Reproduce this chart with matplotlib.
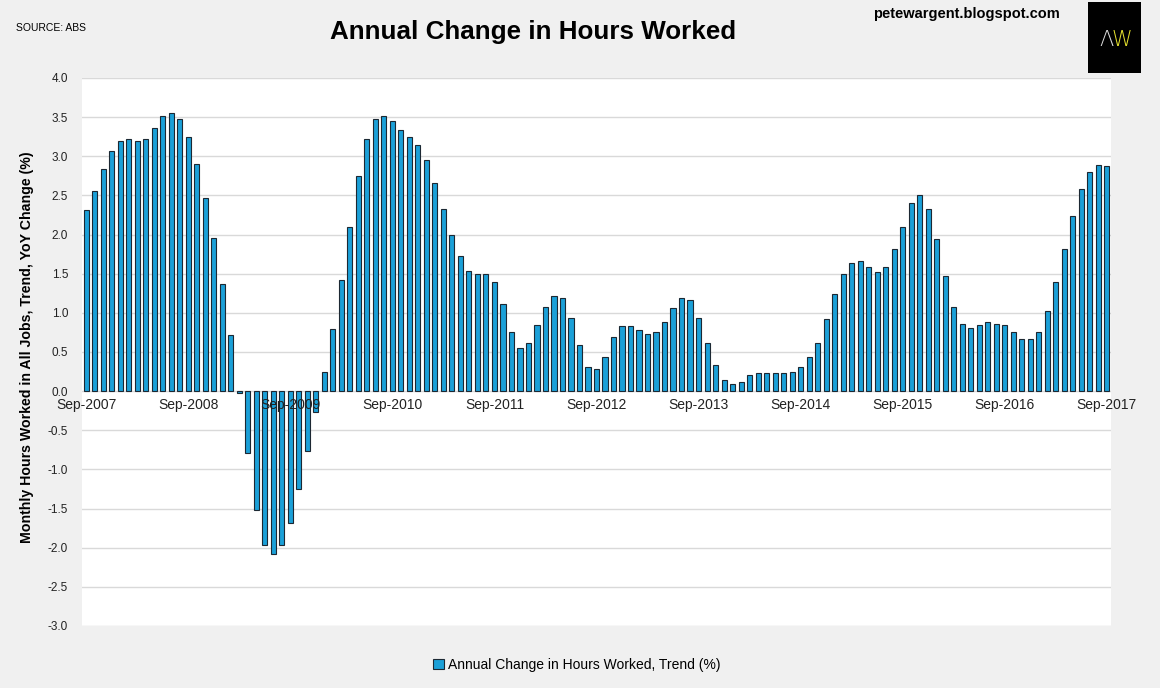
import numpy as np
import pandas as pd
import matplotlib.pyplot as plt
from matplotlib.patches import Rectangle

NARROW = ['Liberation Sans Narrow', 'Liberation Sans', 'DejaVu Sans']
plt.rcParams['font.family'] = NARROW

BAR_COLOR = '#1ba0d8'
EDGE_COLOR = '#1c2833'
BG_COLOR = '#f0f0f0'

# monthly YoY change in hours worked, Sep-2007 .. Sep-2017
months = pd.date_range('2007-09-01', periods=121, freq='MS')
yoy_change = [
  2.31, 2.56, 2.84, 3.07, 3.20, 3.22, 3.20, 3.22, 3.36, 3.52, 3.55, 3.48,
  3.25, 2.90, 2.47, 1.95, 1.37, 0.72, -0.02, -0.79, -1.52, -1.96, -2.08, -1.97,
  -1.69, -1.25, -0.77, -0.27, 0.24, 0.79, 1.42, 2.10, 2.75, 3.22, 3.48, 3.52,
  3.45, 3.33, 3.24, 3.15, 2.95, 2.66, 2.33, 2.00, 1.72, 1.54, 1.50, 1.50,
  1.39, 1.11, 0.75, 0.55, 0.62, 0.84, 1.08, 1.22, 1.19, 0.94, 0.59, 0.31,
  0.28, 0.44, 0.69, 0.83, 0.83, 0.78, 0.73, 0.76, 0.88, 1.06, 1.19, 1.16,
  0.93, 0.61, 0.34, 0.14, 0.09, 0.12, 0.20, 0.23, 0.23, 0.23, 0.23, 0.25,
  0.31, 0.43, 0.62, 0.92, 1.24, 1.49, 1.64, 1.66, 1.58, 1.52, 1.58, 1.82,
  2.10, 2.40, 2.50, 2.33, 1.94, 1.47, 1.08, 0.86, 0.81, 0.84, 0.88, 0.86,
  0.85, 0.75, 0.66, 0.66, 0.76, 1.03, 1.40, 1.82, 2.24, 2.58, 2.80, 2.89,
  2.88,
]
y_ticks = np.arange(-3.0, 4.01, 0.5)

fig = plt.figure(figsize=(11.6, 6.88), dpi=100, facecolor=BG_COLOR)
ax = fig.add_axes([82 / 1160, 1 - 626 / 688, (1111 - 82) / 1160, (626 - 78) / 688])
ax.set_facecolor('white')

x = np.arange(len(months))
bars = ax.bar(x, yoy_change, width=0.6, color=BAR_COLOR, edgecolor=EDGE_COLOR,
              linewidth=0.8, label='Annual Change in Hours Worked, Trend (%)', zorder=3)

ax.set_xlim(-0.5, len(months) - 0.5)
ax.set_ylim(-3.0, 4.0)
ax.set_yticks(y_ticks)
ax.set_yticklabels([f'{v:.1f}' for v in y_ticks], fontsize=8.5)
ax.yaxis.grid(True, color='#d9d9d9', linewidth=1, zorder=0)
ax.tick_params(axis='y', length=0, pad=10, colors='#222222')

sep_idx = [i for i, m in enumerate(months) if m.month == 9]
ax.set_xticks(sep_idx)
ax.set_xticklabels([months[i].strftime('%b-%Y') for i in sep_idx], fontsize=8.5)
ax.spines['bottom'].set_position(('data', 0))
ax.tick_params(axis='x', length=0, pad=5, colors='#222222')
for s in ax.spines.values():
  s.set_visible(False)
ax.xaxis.set_zorder(5)  # labels sit on top of the bars, as in the original

fig.text(27 / 1160, 1 - 347 / 688, 'Monthly Hours Worked in All Jobs, Trend, YoY Change (%)',
         rotation=90, ha='center', va='center', fontsize=10.2, fontweight='bold')

fig.text(533 / 1160, 1 - 32 / 688, 'Annual Change in Hours Worked', ha='center', va='center',
         fontsize=18.7, fontweight='bold')
fig.text(16 / 1160, 1 - 28 / 688, 'SOURCE: ABS', ha='left', va='center', fontsize=7.5)
fig.text(966 / 1160, 1 - 14 / 688, 'petewargent.blogspot.com', ha='center', va='center',
         fontsize=10.5, fontweight='bold', family=['Liberation Sans', 'DejaVu Sans'])

# logo box
fig.patches.append(Rectangle((1088 / 1160, 1 - 73 / 688), 53 / 1160, 71 / 688,
                             transform=fig.transFigure, facecolor='black', edgecolor='none'))
fig.text(1106 / 1160, 1 - 40 / 688, '\u039b', ha='center', va='center', fontsize=15,
         color='#dddddd', family=['DejaVu Sans'], fontweight='light')
fig.text(1122 / 1160, 1 - 40 / 688, 'W', ha='center', va='center', fontsize=15,
         color='#e6e22e', family=['DejaVu Sans'], fontweight='light')

fig.legend(handles=[bars], loc='center', bbox_to_anchor=(577 / 1160, 1 - 665 / 688),
           frameon=False, fontsize=10, handlelength=0.8, handleheight=0.8,
           handletextpad=0.3)

fig.savefig('out.png', dpi=100, facecolor=BG_COLOR)
